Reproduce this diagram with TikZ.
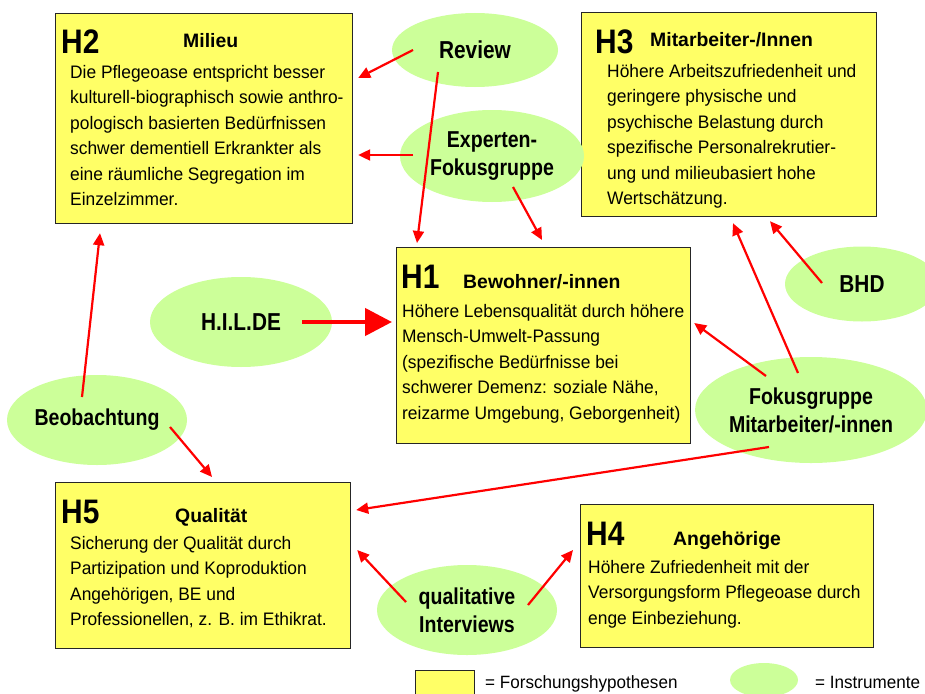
\documentclass[tikz,border=0pt]{standalone}
\usepackage{fontspec}
\setmainfont{Liberation Sans}
\newfontfamily\condsans[FakeStretch=0.88]{Liberation Sans}
\newfontfamily\instsans[FakeStretch=0.85]{Liberation Sans}
\newfontfamily\bodysans[FakeStretch=0.96]{Liberation Sans}
\usetikzlibrary{shapes.geometric,arrows.meta,calc}
\definecolor{boxyellow}{RGB}{255,255,102}
\definecolor{instgreen}{RGB}{204,255,153}
\definecolor{arrred}{RGB}{255,0,0}
\begin{document}
\begin{tikzpicture}[x=1pt,y=-1pt,
  hbox/.style={draw=black!85, line width=1.2pt, fill=boxyellow, inner sep=0pt, anchor=north west},
  inst/.style={ellipse, fill=instgreen, inner sep=0pt, align=center,
    font=\instsans\fontsize{23}{28}\selectfont\bfseries},
  instbig/.style={inst, font=\instsans\fontsize{24.5}{28}\selectfont\bfseries},
  hnum/.style={anchor=base west, inner sep=0pt, font=\condsans\fontsize{34}{38}\selectfont\bfseries},
  htitle/.style={anchor=base west, inner sep=0pt, font=\fontsize{19.4}{23}\selectfont\bfseries},
  hbody/.style={anchor=north west, inner sep=0pt, align=left, font=\bodysans\fontsize{18.1}{25.5}\selectfont},
  legtext/.style={anchor=base west, inner sep=0pt, font=\bodysans\fontsize{17.8}{20}\selectfont},
  arr/.style={draw=arrred, line width=2.2pt, -{Triangle[length=12pt,width=11pt]}},
  bigarr/.style={draw=arrred, line width=4.5pt, -{Triangle[length=27pt,width=27pt]}},
]
\useasboundingbox (0,0) rectangle (925,693);
\clip (0,0) rectangle (925,693);

% hypothesis boxes
\node[hbox, minimum width=297pt, minimum height=210pt] (h2) at (55,13) {};
\node[hbox, minimum width=295pt, minimum height=204pt] (h3) at (581,12) {};
\node[hbox, minimum width=294pt, minimum height=196pt] (h1) at (396,247) {};
\node[hbox, minimum width=295pt, minimum height=166pt] (h5) at (55,482) {};
\node[hbox, minimum width=293pt, minimum height=143pt] (h4) at (580,504) {};

% H2
\node[hnum] (h2n) at (61,53) {H2};
\node[htitle] (h2t) at (183,48) {Milieu};
\node[hbody] (h2b) at (70,60.15) {\strut Die Pflegeoase entspricht besser\\kulturell-biographisch sowie anthro-\\pologisch basierten Bedürfnissen\\schwer dementiell Erkrankter als\\eine räumliche Segregation im\\Einzelzimmer.};

% H3
\node[hnum] (h3n) at (595,53) {H3};
\node[htitle] (h3t) at (650,47) {Mitarbeiter-/Innen};
\node[hbody] (h3b) at (607,59.15) {\strut Höhere Arbeitszufriedenheit und\\geringere physische und\\psychische Belastung durch\\spezifische Personalrekrutier-\\ung und milieubasiert hohe\\Wertschätzung.};

% H1
\node[hnum] (h1n) at (401,288) {H1};
\node[htitle] (h1t) at (463,288) {Bewohner/-innen};
\node[hbody] (h1b) at (402,299.15) {\strut Höhere Lebensqualität durch höhere\\Mensch-Umwelt-Passung\\(spezifische Bedürfnisse bei\\schwerer Demenz: soziale Nähe,\\reizarme Umgebung, Geborgenheit)};

% H5
\node[hnum] (h5n) at (61,523) {H5};
\node[htitle] (h5t) at (175,522) {Qualität};
\node[hbody] (h5b) at (70,531.15) {\strut Sicherung der Qualität durch\\Partizipation und Koproduktion\\Angehörigen, BE und\\Professionellen, z. B. im Ethikrat.};

% H4
\node[hnum] (h4n) at (586,545) {H4};
\node[htitle] (h4t) at (673,545) {Angehörige};
\node[hbody] (h4b) at (588,555.15) {\strut Höhere Zufriedenheit mit der\\Versorgungsform Pflegeoase durch\\enge Einbeziehung.};

% instruments
\node[instbig, minimum width=166pt, minimum height=74pt] (rev) at (475,50) {Review};
\node[inst, minimum width=184pt, minimum height=92pt] (exp) at (492,156) {Experten-\\Fokusgruppe};
\node[instbig, minimum width=182pt, minimum height=90pt] (hil) at (241,322) {H.I.L.DE};
\node[inst, minimum width=180pt, minimum height=90pt] (beo) at (97,420) {Beobachtung};
\node[inst, minimum width=180pt, minimum height=90pt] (qua) at (467,610) {qualitative\\Interviews};
\node[instbig, minimum width=154pt, minimum height=75pt] (bhd) at (862,284) {BHD};
\node[inst, minimum width=218pt, minimum height=106pt] (fok) at (811,410) {Fokusgruppe\\Mitarbeiter/-innen};

% connectors
\draw[arr] ($(rev.center)+(-62,0)$) -- ($(h2.north east)+(5,65)$);
\draw[arr] ($(rev.center)+(-37,22)$) -- ($(h1.north west)+(21,-4)$);
\draw[arr] ($(exp.center)+(-79,-1)$) -- ($(h2.north east)+(5,142)$);
\draw[arr] ($(exp.center)+(21,31)$) -- ($(h1.north west)+(146,-7)$);
\draw[bigarr] ($(hil.center)+(61,0)$) -- ($(h1.north west)+(-4,75)$);
\draw[arr] ($(beo.center)+(-15,-23)$) -- ($(h2.south west)+(45,9)$);
\draw[arr] ($(beo.center)+(73,7)$) -- ($(h5.north west)+(157,-5)$);
\draw[arr] ($(fok.center)+(-45,-34)$) -- ($(h1.north east)+(3,76)$);
\draw[arr] ($(fok.center)+(-13,-37)$) -- ($(h3.south west)+(152,6)$);
\draw[arr] ($(fok.center)+(-42,37)$) -- ($(h5.north east)+(5,28)$);
\draw[arr] ($(bhd.center)+(-40,-1)$) -- ($(h3.south west)+(189,4)$);
\draw[arr] ($(qua.center)+(-61,-8)$) -- ($(h5.north east)+(6,68)$);
\draw[arr] ($(qua.center)+(61,-5)$) -- ($(h4.north west)+(-7,46)$);

% legend
\node[hbox, minimum width=59pt, minimum height=24pt] (legbox) at (415,670) {};
\node[legtext] (legboxt) at (485,688) {= Forschungshypothesen};
\node[ellipse, fill=instgreen, inner sep=0pt, minimum width=68pt, minimum height=34pt] (legell) at (764,680) {};
\node[legtext] (legellt) at (815,688) {= Instrumente};
\end{tikzpicture}
\end{document}
